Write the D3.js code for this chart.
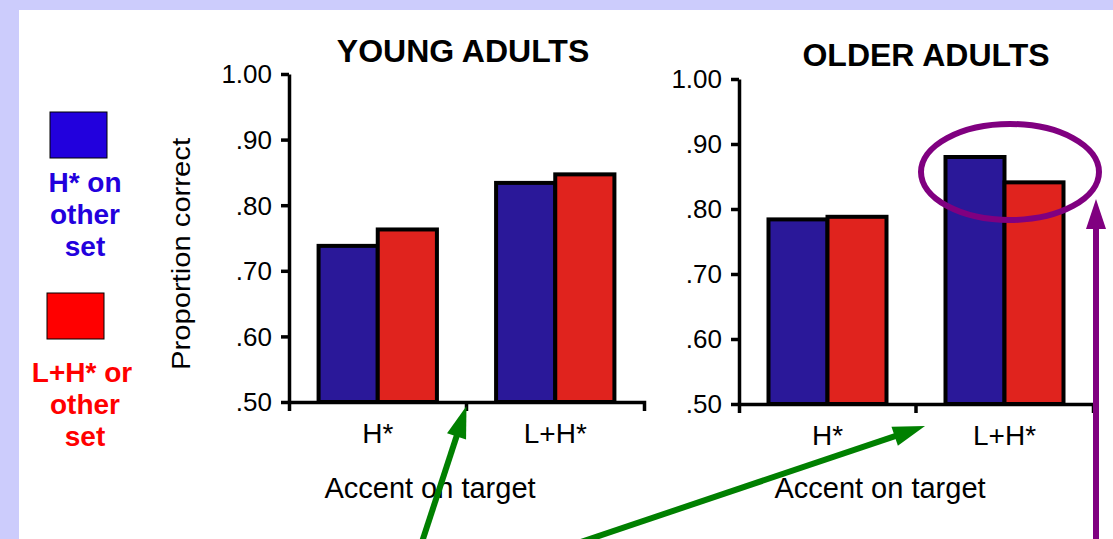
<!DOCTYPE html>
<html>
<head>
<meta charset="utf-8">
<script src="https://cdn.jsdelivr.net/npm/d3@7"></script>
<style>
  body { margin: 0; padding: 0; }
  svg { display: block; }
  text { font-family: "Liberation Sans", Arial, sans-serif; }
</style>
</head>
<body>
<div class="plot"></div>
<script>
// data
const categories = ["H*", "L+H*"];
const seriesNames = ["H* on other set", "L+H* on other set"];
const youngBlue = [0.738, 0.834];
const youngRed = [0.763, 0.847];
const olderBlue = [0.784, 0.880];
const olderRed = [0.788, 0.841];
const yTicks = [0.5, 0.6, 0.7, 0.8, 0.9, 1.0];
const yTickLabels = [".50", ".60", ".70", ".80", ".90", "1.00"];
const legendBlueLines = ["H* on", "other", "set"];
const legendRedLines = ["L+H* or", "other", "set"];

const barColors = ["#2a1899", "#e0231e"];
const legendColors = ["#2200dd", "#ff0000"];

const width = 1113, height = 539;

const svg = d3.select('.plot')
    .append('svg')
    .attr('width', width)
    .attr('height', height);

// slide background
svg.append('rect').attr('width', width).attr('height', height).attr('fill', '#ccccfc');
svg.append('rect').attr('x', 19).attr('y', 10).attr('width', width - 19).attr('height', height - 10).attr('fill', '#fff');

// legend text is cut off by its box in the slide
svg.append('clipPath').attr('id', 'legclip')
    .append('rect').attr('x', 19).attr('y', 0).attr('width', 113).attr('height', height);

function panel(blue, red, opts) {
    const g = svg.append('g');

    const x = d3.scaleBand()
        .domain(categories)
        .range(opts.xRange)
        .paddingInner(1 / 3)
        .paddingOuter(1 / 6);
    const xs = d3.scaleBand()
        .domain([0, 1])
        .range([0, x.bandwidth()]);
    const y = d3.scaleLinear()
        .domain([0.5, 1.0])
        .range(opts.yRange);

    const rows = categories.map((c, i) => ({cat: c, vals: [blue[i], red[i]]}));

    // bars
    const groups = g.selectAll('.grp')
        .data(rows)
        .enter()
        .append('g')
        .attr('class', 'grp')
        .attr('transform', d => `translate(${x(d.cat)},0)`);

    groups.selectAll('rect')
        .data(d => d.vals)
        .enter()
        .append('rect')
        .attr('x', (d, i) => xs(i))
        .attr('y', d => y(d))
        .attr('width', xs.bandwidth())
        .attr('height', d => y(0.5) - y(d))
        .attr('fill', (d, i) => barColors[i])
        .attr('stroke', '#000')
        .attr('stroke-width', 4);

    // y axis
    const yAxis = g.append('g')
        .attr('transform', `translate(${opts.xRange[0]},0)`)
        .call(d3.axisLeft(y)
            .tickValues(yTicks)
            .tickFormat((d, i) => yTickLabels[i])
            .tickSize(8)
            .tickSizeOuter(0)
            .tickPadding(9));

    // x axis
    const xAxis = g.append('g')
        .attr('transform', `translate(0,${y(0.5)})`)
        .call(d3.axisBottom(x)
            .tickSize(0)
            .tickSizeOuter(9)
            .tickPadding(21));

    // middle boundary tick
    g.append('line')
        .attr('x1', x(categories[1]) - x.step() * x.paddingInner() / 2)
        .attr('x2', x(categories[1]) - x.step() * x.paddingInner() / 2)
        .attr('y1', y(0.5))
        .attr('y2', y(0.5) + 9)
        .attr('stroke', '#000')
        .attr('stroke-width', 3.5);

    [yAxis, xAxis].forEach(a => {
        a.selectAll('path, line').attr('stroke', '#000').attr('stroke-width', 3.5);
        a.selectAll('text')
            .attr('fill', '#000')
            .style('font-family', '"Liberation Sans", Arial, sans-serif');
    });
    yAxis.selectAll('text').style('font-size', '26px').attr('dy', '0.34em');
    xAxis.selectAll('text').style('font-size', '28px');

    // title
    g.append('text')
        .attr('x', opts.titleX)
        .attr('y', opts.titleY)
        .attr('text-anchor', 'middle')
        .style('font-size', '32px')
        .style('font-weight', 'bold')
        .text(opts.title);

    // x label
    g.append('text')
        .attr('x', opts.xLabelX)
        .attr('y', 498)
        .attr('text-anchor', 'middle')
        .style('font-size', '29px')
        .text('Accent on target');

    return {x, y};
}

const young = panel(youngBlue, youngRed, {
    xRange: [289, 644], yRange: [402, 74],
    title: 'YOUNG ADULTS', titleX: 463, titleY: 62, xLabelX: 430
});
const older = panel(olderBlue, olderRed, {
    xRange: [739, 1093], yRange: [404, 79],
    title: 'OLDER ADULTS', titleX: 926, titleY: 66, xLabelX: 880
});

// y label
svg.append('text')
    .attr('transform', 'translate(190,254) rotate(-90)')
    .attr('text-anchor', 'middle')
    .attr('textLength', 232)
    .attr('lengthAdjust', 'spacingAndGlyphs')
    .style('font-size', '25px')
    .text('Proportion correct');

// legend
const legend = svg.append('g').attr('clip-path', 'url(#legclip)');
const legendY = [112, 293];
const legendX = [50, 47];
const legendLines = [legendBlueLines, legendRedLines];
const legendTextY = [192, 382];
seriesNames.forEach((s, i) => {
    legend.append('rect')
        .attr('x', legendX[i])
        .attr('y', legendY[i])
        .attr('width', 57)
        .attr('height', 46)
        .attr('fill', legendColors[i])
        .attr('stroke', '#000')
        .attr('stroke-width', 1);
    legend.append('text')
        .attr('x', 85)
        .attr('y', legendTextY[i])
        .attr('text-anchor', 'middle')
        .attr('fill', legendColors[i])
        .style('font-size', '28px')
        .style('font-weight', 'bold')
        .selectAll('tspan')
        .data(legendLines[i])
        .enter()
        .append('tspan')
        .attr('x', (d, j) => (i === 1 && j === 0) ? 82 : 85)
        .attr('dy', (d, j) => j === 0 ? 0 : 32)
        .text(d => d);
});

// annotations
function arrow(x1, y1, x2, y2, color, w, headLen, headW) {
    const dx = x2 - x1, dy = y2 - y1;
    const len = Math.sqrt(dx * dx + dy * dy);
    const ux = dx / len, uy = dy / len;
    const bx = x2 - ux * headLen, by = y2 - uy * headLen;
    svg.append('line')
        .attr('x1', x1).attr('y1', y1)
        .attr('x2', bx + ux * 2).attr('y2', by + uy * 2)
        .attr('stroke', color)
        .attr('stroke-width', w);
    svg.append('path')
        .attr('d', `M${x2},${y2}L${bx - uy * headW / 2},${by + ux * headW / 2}L${bx + uy * headW / 2},${by - ux * headW / 2}Z`)
        .attr('fill', color);
}

const tipYoung = young.x(categories[1]) - young.x.step() * young.x.paddingInner() / 2;
const tipOlder = older.x(categories[1]) - older.x.step() * older.x.paddingInner() / 2;
arrow(421, 545, tipYoung, young.y(0.5) + 4, '#008000', 6, 32, 20);
arrow(572, 545, tipOlder + 9, older.y(0.5) + 22, '#008000', 6, 32, 20);

svg.append('ellipse')
    .attr('cx', 1010)
    .attr('cy', 172)
    .attr('rx', 89)
    .attr('ry', 48)
    .attr('fill', 'none')
    .attr('stroke', '#800080')
    .attr('stroke-width', 6);

arrow(1096, 545, 1096, 199, '#800080', 6, 30, 20);
</script>
</body>
</html>
